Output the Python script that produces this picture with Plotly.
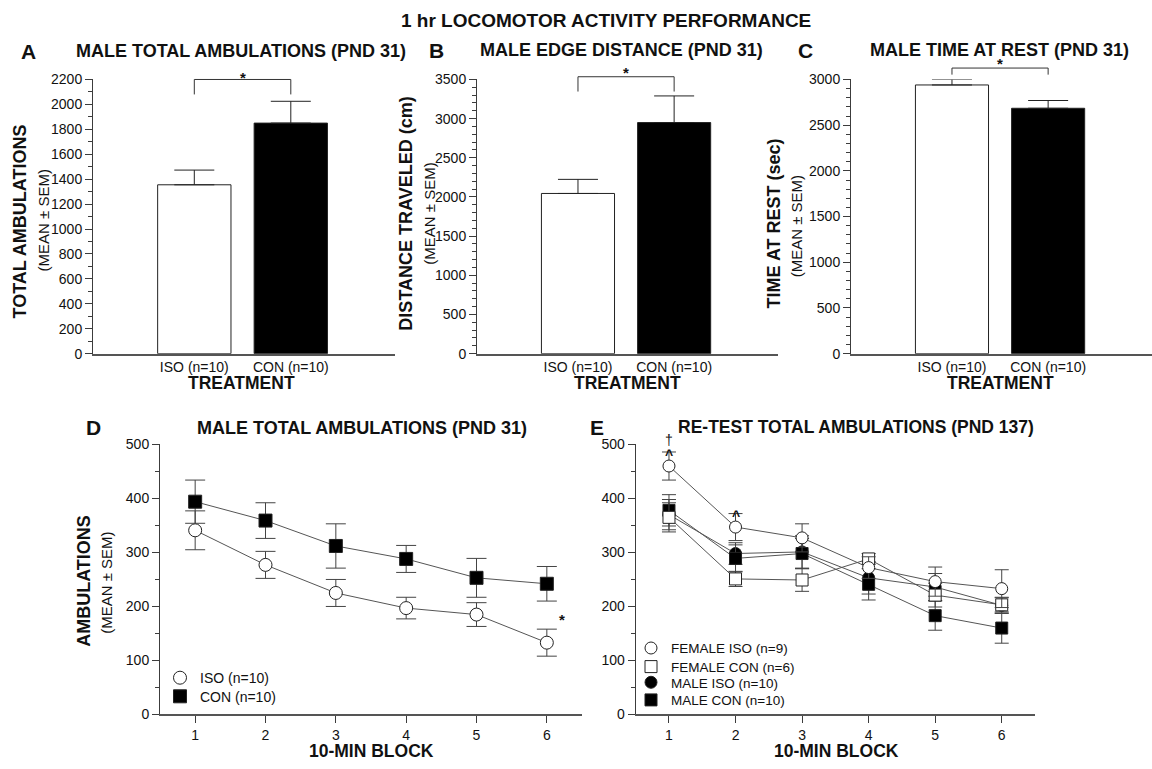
import plotly.graph_objects as go

W, H = 1152, 769
FONT = "Liberation Sans, Arial, Helvetica, sans-serif"
INK = "#111111"
AXIS = "#3c3c3c"
LINE = "#555555"

# ---------------- data ----------------
groups = ["ISO (n=10)", "CON (n=10)"]
bar_fill = ["white", "black"]

ambul_mean = [1355, 1850]
ambul_sem = [118, 175]
edge_mean = [2045, 2950]
edge_sem = [180, 340]
rest_mean = [2940, 2685]
rest_sem = [60, 85]

blocks = [1, 2, 3, 4, 5, 6]
block_ticks = ["1", "2", "3", "4", "5", "6"]

pnd31_iso_mean = [341, 277, 225, 197, 185, 133]
pnd31_iso_sem = [36, 25, 25, 20, 22, 25]
pnd31_con_mean = [394, 359, 312, 288, 253, 242]
pnd31_con_sem = [40, 33, 41, 25, 36, 32]

fem_iso_mean = [460, 347, 327, 272, 246, 233]
fem_iso_sem = [26, 25, 26, 20, 27, 35]
fem_con_mean = [365, 251, 249, 288, 221, 203]
fem_con_sem = [27, 14, 21, 10, 22, 13]
male_iso_mean = [370, 298, 301, 253, 236, 202]
male_iso_sem = [28, 20, 30, 30, 25, 15]
male_con_mean = [378, 289, 298, 241, 183, 160]
male_con_sem = [29, 25, 28, 29, 27, 28]


def px(x):
    return x / W


def py(y):
    return 1 - y / H


fig = go.Figure()
annotations = []
shapes = []


def label(x, y, s, size, bold=False, angle=0, color=INK):
    annotations.append(dict(
        x=px(x), y=py(y), xref="paper", yref="paper",
        text=f"<b>{s}</b>" if bold else s, showarrow=False,
        textangle=angle, xanchor="center", yanchor="middle",
        font=dict(size=size, color=color, family=FONT)))


tick_font = dict(size=14, color=INK, family=FONT)

# ---------------- bar panels A, B, C ----------------
bar_panels = [
    # suffix, mean, sem, axis top, major step, x px span
    ("", ambul_mean, ambul_sem, 2200, 200, (93, 395)),
    ("2", edge_mean, edge_sem, 3500, 500, (477, 778)),
    ("3", rest_mean, rest_sem, 3000, 500, (851, 1152)),
]
Y_TOP_PX, Y_BOT_PX = 73, 353

layout_axes = {}
for suf, mean, sem, top, step, (x0, x1) in bar_panels:
    fig.add_trace(go.Bar(
        x=groups, y=mean, width=[0.76, 0.76],
        marker=dict(color=bar_fill, line=dict(color="#222222", width=1)),
        error_y=dict(type="data", array=sem, arrayminus=[0, 0], symmetric=False,
                     color="#222222", thickness=1, width=20),
        xaxis="x" + suf, yaxis="y" + suf, showlegend=False, hoverinfo="skip"))
    layout_axes["xaxis" + suf] = dict(
        domain=[px(x0), px(x1)], anchor="y" + suf, type="category",
        range=[-1.05, 2.08], showline=True, linecolor="#555555", linewidth=1.6,
        ticks="", showgrid=False, zeroline=False, tickfont=tick_font,
        fixedrange=True)
    layout_axes["yaxis" + suf] = dict(
        domain=[py(Y_BOT_PX), py(Y_TOP_PX)], anchor="x" + suf,
        range=[0, top], tick0=0, dtick=step, ticks="outside", ticklen=7,
        tickcolor=AXIS, tickwidth=1, showline=True, linecolor=AXIS,
        linewidth=1, showgrid=False, zeroline=False, tickfont=tick_font,
        minor=dict(dtick=100, ticks="outside", ticklen=4, tickcolor=AXIS,
                   showgrid=False),
        fixedrange=True)

# significance brackets (bar/leg heights in data units of each panel)
brackets = [
    ("", 2200, 2200, 2080, 1.009),
    ("2", 3500, 3535, 3346, 1.027),
    ("3", 3000, 3125, 3053, 1.059),
]
for suf, top, y_bar, y_leg, star_dom in brackets:
    xr, yr = "x" + suf, ("y" + suf if suf else "y") + " domain"
    seg = dict(type="line", xref=xr, yref=yr,
               line=dict(color="#333333", width=1))
    shapes.append(dict(seg, x0=0, x1=1, y0=y_bar / top, y1=y_bar / top))
    shapes.append(dict(seg, x0=0, x1=0, y0=y_leg / top, y1=y_bar / top))
    shapes.append(dict(seg, x0=1, x1=1, y0=y_leg / top, y1=y_bar / top))
    annotations.append(dict(x=0.5, y=star_dom, xref=xr, yref=yr, text="<b>*</b>",
                            showarrow=False, yanchor="middle",
                            font=dict(size=15, color=INK, family=FONT)))

# ---------------- line panels D, E ----------------
LY_TOP_PX, LY_BOT_PX = 445.7, 721.5
line_panels = {"4": (160, 582), "5": (635.7, 1035)}
for suf, (x0, x1) in line_panels.items():
    layout_axes["xaxis" + suf] = dict(
        domain=[px(x0), px(x1)], anchor="y" + suf, range=[0.5, 6.5],
        tickvals=blocks, ticktext=block_ticks, ticks="outside", ticklen=7,
        tickcolor=AXIS, showline=True, linecolor="#555555", linewidth=1.6,
        showgrid=False, zeroline=False, tickfont=tick_font, fixedrange=True)
    layout_axes["yaxis" + suf] = dict(
        domain=[py(LY_BOT_PX), py(LY_TOP_PX)], anchor="x" + suf,
        range=[0, 500], tick0=0, dtick=100, ticks="outside", ticklen=7,
        tickcolor=AXIS, showline=True, linecolor=AXIS, linewidth=1,
        showgrid=False, zeroline=False, tickfont=tick_font,
        minor=dict(dtick=50, ticks="outside", ticklen=4, tickcolor=AXIS,
                   showgrid=False),
        fixedrange=True)


def series(suf, mean, sem, name, symbol, fill, size, cap, legend):
    fig.add_trace(go.Scatter(
        x=blocks, y=mean, mode="lines", line=dict(color=LINE, width=1),
        xaxis="x" + suf, yaxis="y" + suf, showlegend=False, hoverinfo="skip"))
    return go.Scatter(
        x=blocks, y=mean, mode="markers", name=name,
        marker=dict(symbol=symbol, size=size, color=fill,
                    line=dict(color="#222222", width=1)),
        error_y=dict(type="data", array=sem, color="#444444", thickness=1,
                     width=cap),
        xaxis="x" + suf, yaxis="y" + suf, legend=legend, hoverinfo="skip")


# D: PND 31 time course
d_marks = [
    series("4", pnd31_iso_mean, pnd31_iso_sem, "ISO (n=10)", "circle", "white", 13, 10, "legend"),
    series("4", pnd31_con_mean, pnd31_con_sem, "CON (n=10)", "square", "black", 13, 10, "legend2"),
]
# E: PND 137 re-test (drawn male first so the female symbols sit on top)
e_marks = [
    series("5", male_iso_mean, male_iso_sem, "MALE ISO (n=10)", "circle", "black", 12, 7, "legend5"),
    series("5", male_con_mean, male_con_sem, "MALE CON (n=10)", "square", "black", 12, 7, "legend6"),
    series("5", fem_con_mean, fem_con_sem, "FEMALE CON (n=6)", "square", "white", 12, 7, "legend4"),
    series("5", fem_iso_mean, fem_iso_sem, "FEMALE ISO (n=9)", "circle", "white", 12, 7, "legend3"),
]
for tr in d_marks + e_marks:
    fig.add_trace(tr)

# significance marks on the time courses
annotations.append(dict(x=6.21, y=176, xref="x4", yref="y4", text="<b>*</b>",
                        showarrow=False, font=dict(size=15, color=INK, family=FONT)))
E_TOP = 500
for xb, yv in [(1, 499), (2, 386)]:
    annotations.append(dict(x=xb, y=yv / E_TOP, xref="x5", yref="y5 domain",
                            text="<b>^</b>", showarrow=False,
                            font=dict(size=14, color=INK, family=FONT)))
annotations.append(dict(x=1, y=1.054, xref="x5", yref="y5 domain", text="†",
                        showarrow=False, font=dict(size=14, color=INK, family=FONT)))

# ---------------- titles and axis labels ----------------
label(606, 13, "1 hr LOCOMOTOR ACTIVITY PERFORMANCE", 19, bold=True)

for letter, lx, ly in [("A", 28, 44), ("B", 436, 43), ("C", 805, 43),
                       ("D", 93, 428), ("E", 597, 428)]:
    label(lx, ly, letter, 21, bold=True)

label(241, 44, "MALE TOTAL AMBULATIONS (PND 31)", 18, bold=True)
label(621, 43, "MALE EDGE DISTANCE (PND 31)", 18, bold=True)
label(999, 43, "MALE TIME AT REST (PND 31)", 18, bold=True)
label(362, 429, "MALE TOTAL AMBULATIONS (PND 31)", 18, bold=True)
label(856, 428, "RE-TEST TOTAL AMBULATIONS (PND 137)", 17.5, bold=True)

for cx in (241.5, 627, 1000):
    label(cx, 383, "TREATMENT", 17.5, bold=True)
label(371, 758.5, "10-MIN BLOCK", 17.5, bold=True)
label(836, 758.5, "10-MIN BLOCK", 17.5, bold=True)

sem_txt = "(MEAN ± SEM)"
label(20, 218, "TOTAL AMBULATIONS", 18, bold=True, angle=-90)
label(43, 217, sem_txt, 15, angle=-90)
label(406, 210, "DISTANCE TRAVELED (cm)", 18, bold=True, angle=-90)
label(430, 210, sem_txt, 15, angle=-90)
label(774, 220, "TIME AT REST (sec)", 18, bold=True, angle=-90)
label(796, 223, sem_txt, 15, angle=-90)
label(84, 585, "AMBULATIONS", 18, bold=True, angle=-90)
label(107, 587, sem_txt, 15, angle=-90)

# one legend box per entry so each row sits at its own height
legend_common = dict(
    xanchor="left", yanchor="top", bgcolor="rgba(0,0,0,0)", borderwidth=0,
    tracegroupgap=0, itemwidth=30, itemclick=False, itemdoubleclick=False)
d_font = dict(size=14, color=INK, family=FONT)
e_font = dict(size=13.5, color=INK, family=FONT)
legend_rows = {
    "legend": (160, 668, d_font),
    "legend2": (160, 687, d_font),
    "legend3": (631, 638, e_font),
    "legend4": (631, 657, e_font),
    "legend5": (631, 673, e_font),
    "legend6": (631, 691, e_font),
}
legend_layout = {
    key: dict(legend_common, x=px(lx), y=py(ly), font=fnt)
    for key, (lx, ly, fnt) in legend_rows.items()
}

fig.update_layout(
    width=W, height=H, margin=dict(l=0, r=0, t=0, b=0),
    paper_bgcolor="white", plot_bgcolor="white",
    font=dict(family=FONT, color=INK, size=14),
    showlegend=True,
    annotations=annotations, shapes=shapes,
    **legend_layout,
    **layout_axes,
)

fig.write_html("out.html")
